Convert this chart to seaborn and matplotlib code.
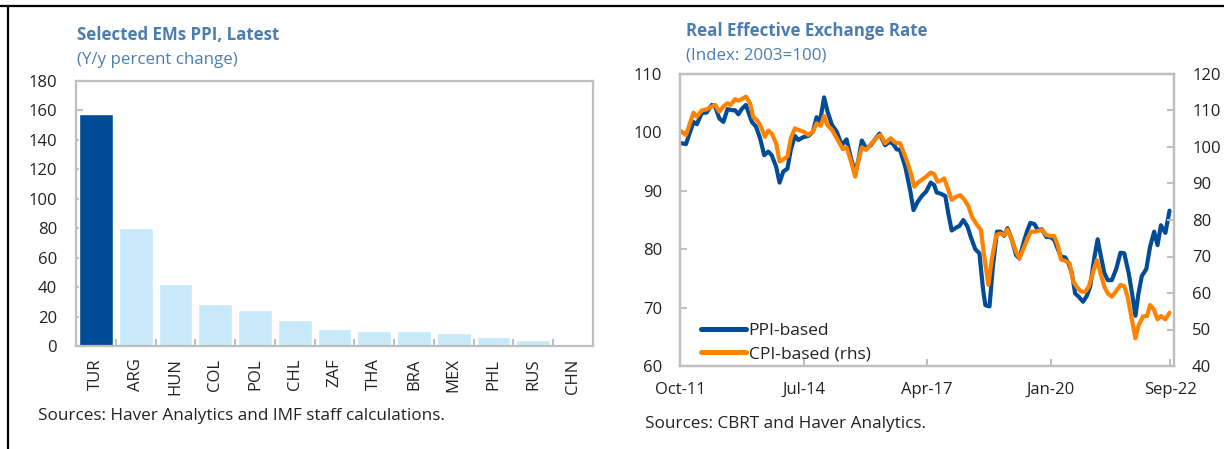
import matplotlib
matplotlib.use("Agg")
import matplotlib.pyplot as plt
from matplotlib.lines import Line2D
import seaborn as sns
import pandas as pd

# ----------------------------------------
# Data
# ----------------------------------------
countries = ["TUR", "ARG", "HUN", "COL", "POL", "CHL", "ZAF",
             "THA", "BRA", "MEX", "PHL", "RUS", "CHN"]
ppi_change = [157.6, 80.4, 41.8, 28.2, 24.4, 17.4, 11.3,
              9.9, 9.9, 8.5, 5.8, 4.4, 0.0]

# months since Oct-2011 and index values (PPI-based, lhs)
ppi_month = [0, 1.6, 3.6, 4.5, 5.8, 7.1, 8.5, 9.4, 10.5, 11.6, 12.7, 13.8, 14.7, 15.6,
             16.5, 17.6, 19.2, 20.3, 21.4, 22.5, 23.6, 24.5, 25.7, 26.6, 27.6, 28.7,
             29.6, 30.7, 31.6, 33.0, 34.3, 35.5, 36.5, 37.4, 38.5, 39.4, 40.6, 41.9,
             43.2, 44.5, 45.6, 46.8, 47.7, 48.6, 49.7, 51.0, 52.1, 53.3, 54.8, 56.0,
             57.0, 57.9, 58.8, 60.2, 61.5, 62.4, 63.5, 64.6, 65.8, 67.0, 67.9, 68.6,
             69.7, 70.9, 71.7, 72.6, 73.8, 74.7, 75.7, 76.8, 77.7, 78.9, 80.0, 81.0,
             81.6, 82.7, 83.6, 84.7, 85.7, 86.6, 87.5, 88.7, 89.8, 90.7, 91.8, 92.7,
             93.6, 94.7, 95.6, 96.7, 97.9, 98.9, 100.0, 100.9, 101.8, 102.9, 103.8,
             104.7, 105.6, 106.5, 107.7, 108.7, 109.6, 110.7, 111.6, 112.5, 113.4,
             114.3, 115.4, 116.6, 117.7, 118.7, 119.9, 120.8, 121.7, 122.5, 123.4,
             124.6, 125.6, 126.7, 127.6, 128.5, 129.7, 130.8]
ppi_reer = [98.2, 98.0, 101.8, 101.4, 103.3, 103.4, 104.7, 104.4, 102.4, 101.8, 104.0, 103.8,
            103.8, 103.1, 104.0, 104.7, 101.8, 101.0, 99.0, 96.1, 96.7, 96.1, 94.1, 91.4,
            93.3, 93.8, 97.0, 99.4, 98.7, 99.2, 99.4, 100.1, 102.6, 101.8, 106.0, 103.6,
            101.3, 100.1, 97.8, 98.8, 95.8, 93.0, 95.4, 98.6, 97.3, 97.8, 98.8, 99.8,
            97.8, 98.4, 98.0, 97.1, 97.0, 94.1, 90.1, 86.7, 88.1, 89.1, 89.9, 91.4,
            91.0, 89.7, 89.5, 89.1, 86.1, 83.2, 83.7, 84.0, 85.0, 83.9, 82.1, 80.0,
            79.3, 73.0, 70.4, 70.2, 77.0, 83.0, 83.0, 82.3, 83.6, 81.6, 79.0, 78.4,
            81.1, 83.0, 84.5, 84.3, 83.3, 83.4, 82.1, 82.1, 81.6, 80.1, 78.7, 78.6,
            77.6, 75.9, 72.4, 71.9, 71.0, 72.0, 73.6, 78.5, 81.7, 78.7, 75.9, 74.7,
            74.7, 76.7, 79.4, 79.3, 75.9, 72.4, 68.6, 72.4, 75.4, 76.6, 80.4, 83.0,
            80.7, 84.1, 82.8, 86.6]

# CPI-based, rhs
cpi_month = [0, 1.6, 3.6, 4.5, 5.8, 7.1, 8.5, 9.4, 10.5, 11.6, 12.7, 13.5, 14.7, 15.6,
             16.5, 17.6, 18.7, 19.6, 20.7, 21.6, 22.7, 23.6, 24.5, 25.7, 26.6, 27.6,
             28.7, 29.6, 30.7, 31.6, 33.0, 34.3, 35.5, 36.5, 37.6, 38.5, 39.4, 40.6,
             41.9, 43.5, 44.5, 45.6, 46.8, 47.7, 48.6, 49.7, 51.2, 52.8, 53.6, 54.8,
             56.3, 57.5, 58.8, 60.2, 61.7, 62.6, 63.5, 64.6, 65.8, 67.0, 67.9, 68.8,
             69.7, 70.6, 71.7, 72.6, 73.8, 74.9, 75.9, 77.1, 78.0, 79.2, 80.4, 81.3,
             82.4, 83.3, 84.5, 85.6, 86.6, 87.5, 88.7, 89.8, 90.7, 91.8, 92.9, 93.8,
             95.0, 96.7, 97.9, 98.9, 100.0, 100.9, 101.8, 102.9, 104.1, 105.1, 106.0,
             107.1, 108.3, 109.2, 110.3, 111.4, 112.5, 113.4, 114.3, 115.4, 116.6,
             117.7, 118.7, 119.6, 120.5, 121.7, 122.5, 123.7, 124.8, 125.6, 126.6,
             127.6, 128.5, 129.7, 130.8]
cpi_reer = [104.5, 103.3, 109.4, 108.3, 110.0, 110.3, 111.1, 111.5, 109.7, 111.1, 112.0, 111.5,
            113.1, 112.7, 113.1, 113.8, 112.0, 108.1, 107.2, 105.6, 102.8, 104.5, 103.7, 101.0,
            96.0, 96.6, 97.4, 102.4, 105.1, 104.7, 104.2, 103.3, 104.2, 106.5, 105.8, 108.5,
            106.0, 104.7, 102.4, 99.4, 99.9, 96.4, 91.9, 96.4, 99.9, 99.2, 101.0, 102.8,
            103.3, 101.0, 102.4, 101.2, 101.0, 97.4, 92.8, 89.1, 90.2, 91.0, 91.9, 93.0,
            92.6, 90.5, 90.8, 91.4, 88.2, 85.5, 86.4, 86.8, 85.7, 83.7, 80.9, 78.9,
            77.3, 70.0, 62.2, 69.1, 75.9, 76.3, 75.9, 77.4, 74.5, 71.3, 69.5, 72.2,
            75.0, 76.8, 76.8, 77.3, 75.9, 75.6, 75.6, 73.2, 69.2, 68.8, 68.1, 63.1,
            61.7, 60.4, 60.4, 61.7, 65.4, 69.0, 64.9, 61.7, 59.9, 59.0, 60.6, 62.2,
            61.9, 59.0, 54.0, 47.6, 51.0, 53.6, 53.7, 56.7, 55.5, 52.8, 53.7, 52.8,
            54.6]

date_ticks = [0, 33, 66, 99, 131]
date_labels = ["Oct-11", "Jul-14", "Apr-17", "Jan-20", "Sep-22"]

# ----------------------------------------
# Style
# ----------------------------------------
sns.set_theme(style="white")
plt.rcParams["font.family"] = ["Open Sans", "DejaVu Sans"]

W, H = 1224, 449
TITLE_C = "#4B7DB1"
TEXT_C = "#222222"
SPINE_C = "#BFBFBF"
DARK_BLUE = "#004C97"
LIGHT_BLUE = "#C8E9FA"
ORANGE = "#FF8200"
TICK_FS = 12

fig = plt.figure(figsize=(W / 100, H / 100), dpi=100)


def px_axes(left, top, right, bottom):
    return fig.add_axes([left / W, 1 - bottom / H, (right - left) / W, (bottom - top) / H])


def style_box(ax):
    for s in ax.spines.values():
        s.set_color(SPINE_C)
        s.set_linewidth(1.6)
        s.set_visible(True)


# ----------------------------------------
# Left: Selected EMs PPI
# ----------------------------------------
ax1 = px_axes(76, 81, 593, 346)
bar_df = pd.DataFrame({"country": countries, "ppi": ppi_change})
bar_colors = [DARK_BLUE] + [LIGHT_BLUE] * (len(countries) - 1)
sns.barplot(data=bar_df, x="country", y="ppi", hue="country", palette=bar_colors,
            legend=False, width=0.85, saturation=1, ax=ax1)
ax1.set_xlim(-0.5, len(countries) - 0.5)
ax1.set_ylim(0, 180)
ax1.set_yticks(range(0, 181, 20))
ax1.set_xlabel("")
ax1.set_ylabel("")
style_box(ax1)
ax1.tick_params(axis="y", direction="in", length=5, width=1.5, color=SPINE_C,
                labelsize=TICK_FS, labelcolor=TEXT_C, pad=13.5, left=True)
ax1.tick_params(axis="x", which="major", length=0, labelsize=TICK_FS, labelcolor=TEXT_C,
                pad=9, labelrotation=90)
ax1.set_xticks([i + 0.5 for i in range(len(countries) - 1)], minor=True)
ax1.tick_params(axis="x", which="minor", direction="in", length=5, width=1.5,
                color=SPINE_C, bottom=True)

fig.text(77 / W, 1 - 35 / H, "Selected EMs PPI, Latest", color=TITLE_C,
         fontsize=12.2, fontweight="bold", va="center", ha="left")
fig.text(77 / W, 1 - 60 / H, "(Y/y percent change)", color=TITLE_C,
         fontsize=12.2, va="center", ha="left")
fig.text(38 / W, 1 - 416 / H, "Sources: Haver Analytics and IMF staff calculations.",
         color=TEXT_C, fontsize=12.3, va="center", ha="left")

# ----------------------------------------
# Right: Real Effective Exchange Rate
# ----------------------------------------
ax2 = px_axes(680, 74, 1174, 366)
sns.lineplot(x=ppi_month, y=ppi_reer, ax=ax2, color=DARK_BLUE, linewidth=3,
             sort=False, estimator=None, label="PPI-based", legend=False)
ax2.set_xlim(0, 132)
ax2.set_ylim(60, 110)
ax2.set_yticks(range(60, 111, 10))
ax2.set_xticks(date_ticks)
ax2.set_xticklabels(date_labels)

ax3 = ax2.twinx()
sns.lineplot(x=cpi_month, y=cpi_reer, ax=ax3, color=ORANGE, linewidth=3,
             sort=False, estimator=None, label="CPI-based (rhs)", legend=False)
ax3.set_ylim(40, 120)
ax3.set_yticks(range(40, 121, 10))

for ax in (ax2, ax3):
    ax.set_xlabel("")
    ax.set_ylabel("")
    style_box(ax)
ax2.tick_params(axis="y", direction="in", length=5, width=1.5, color=SPINE_C,
                labelsize=TICK_FS, labelcolor=TEXT_C, pad=13, left=True)
ax2.tick_params(axis="x", direction="in", length=5, width=1.5, color=SPINE_C,
                labelsize=TICK_FS, labelcolor=TEXT_C, pad=11.5, bottom=True)
ax3.tick_params(axis="y", direction="in", length=5, width=1.5, color=SPINE_C,
                labelsize=TICK_FS, labelcolor=TEXT_C, pad=13, right=True)

handles = [Line2D([], [], color=DARK_BLUE, lw=3.6), Line2D([], [], color=ORANGE, lw=3.6)]
ax3.legend(handles, ["PPI-based", "CPI-based (rhs)"], loc="lower left",
           bbox_to_anchor=(0.035, 0.0), frameon=False, fontsize=12.5,
           handlelength=2.6, handletextpad=0.15, borderpad=0, borderaxespad=0.2,
           labelspacing=0.4, labelcolor=TEXT_C)

fig.text(686 / W, 1 - 31 / H, "Real Effective Exchange Rate", color=TITLE_C,
         fontsize=12.2, fontweight="bold", va="center", ha="left")
fig.text(686 / W, 1 - 55 / H, "(Index: 2003=100)", color=TITLE_C,
         fontsize=12.2, va="center", ha="left")
fig.text(645 / W, 1 - 424 / H, "Sources: CBRT and Haver Analytics.",
         color=TEXT_C, fontsize=12.3, va="center", ha="left")

# black frame on top and left
fig.add_artist(Line2D([0, 1], [1 - 5.5 / H] * 2, color="black", lw=1.6))
fig.add_artist(Line2D([7.5 / W] * 2, [0, 1 - 5.5 / H], color="black", lw=1.6))

fig.savefig("out.png", dpi=100)
